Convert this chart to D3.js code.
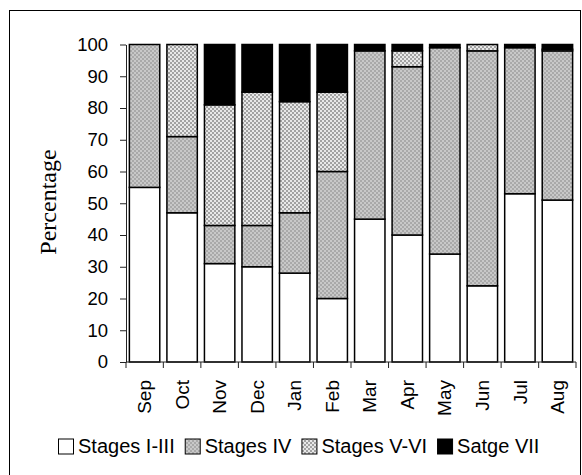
<!DOCTYPE html>
<html>
<head>
<meta charset="utf-8">
<script src="https://cdn.jsdelivr.net/npm/d3@7"></script>
<style>
  body { margin: 0; background: #fff; }
  svg { display: block; }
</style>
</head>
<body>
<script>
const months = ['Sep', 'Oct', 'Nov', 'Dec', 'Jan', 'Feb', 'Mar', 'Apr', 'May', 'Jun', 'Jul', 'Aug']
const stagesI_III = [55, 47, 31, 30, 28, 20, 45, 40, 34, 24, 53, 51]
const stagesIV = [45, 24, 12, 13, 19, 40, 53, 53, 65, 74, 46, 47]
const stagesV_VI = [0, 29, 38, 42, 35, 25, 0, 5, 0, 2, 0, 0.5]
const stageVII = [0, 0, 19, 15, 18, 15, 2, 2, 1, 0, 1, 1.5]
const seriesNames = ['Stages I-III', 'Stages IV', 'Stages V-VI', 'Satge VII']
const yTicks = [0, 10, 20, 30, 40, 50, 60, 70, 80, 90, 100]

const width = 582
const height = 475

const rows = months.map((m, i) => ({
  month: m,
  s0: stagesI_III[i], s1: stagesIV[i], s2: stagesV_VI[i], s3: stageVII[i]
}))
const keys = ['s0', 's1', 's2', 's3']

const svg = d3.select('body').append('svg')
  .attr('width', width)
  .attr('height', height)

// checkered fills for the grey stages
const defs = svg.append('defs')
function checker(id, a, b) {
  const p = defs.append('pattern')
    .attr('id', id)
    .attr('width', 4).attr('height', 4)
    .attr('patternUnits', 'userSpaceOnUse')
  p.append('rect').attr('width', 4).attr('height', 4).attr('fill', a)
  p.append('rect').attr('width', 2).attr('height', 2).attr('fill', b)
  p.append('rect').attr('x', 2).attr('y', 2).attr('width', 2).attr('height', 2).attr('fill', b)
}
checker('pIV', '#c8c8c8', '#a9a9a9')
checker('pVVI', '#e8e8e8', '#a2a2a2')
const fills = ['#ffffff', 'url(#pIV)', 'url(#pVVI)', '#000000']

// outer frame
svg.append('rect')
  .attr('x', 9.5).attr('y', 10.5)
  .attr('width', 571).attr('height', 475)
  .attr('fill', 'none')
  .attr('stroke', '#000')
  .attr('stroke-width', 1)

const x = d3.scaleBand()
  .domain(months)
  .range([126, 576])
  .paddingInner(0.19)
  .paddingOuter(0.09)

const y = d3.scaleLinear()
  .domain([0, 100])
  .range([362, 44.5])

const stacked = d3.stack().keys(keys)(rows)

// bars
svg.append('g')
  .selectAll('g')
  .data(stacked)
  .join('g')
  .attr('fill', (d, i) => fills[i])
  .selectAll('rect')
  .data(d => d.filter(s => s[1] - s[0] > 0))
  .join('rect')
  .attr('x', d => x(d.data.month))
  .attr('y', d => y(d[1]))
  .attr('width', x.bandwidth())
  .attr('height', d => y(d[0]) - y(d[1]))
  .attr('stroke', '#000')
  .attr('stroke-width', 1.5)

// y axis
const yAxis = svg.append('g')
  .attr('transform', 'translate(126,0)')
  .call(d3.axisLeft(y).tickValues(yTicks).tickSize(6).tickSizeOuter(0))
yAxis.selectAll('path, line').attr('stroke', '#222')
yAxis.selectAll('text')
  .attr('x', -18)
  .style('font-family', '"Liberation Sans", Arial, sans-serif')
  .style('font-size', '18.5px')
  .attr('fill', '#000')

// x axis line and ticks at band edges
const xAxis = svg.append('g')
xAxis.append('line')
  .attr('x1', 126).attr('x2', 576)
  .attr('y1', y(0)).attr('y2', y(0))
  .attr('stroke', '#222')
const edges = months.map(m => x(m) - x.step() * x.paddingInner() / 2)
edges.push(576)
edges[0] = 126
xAxis.selectAll('.tk')
  .data(edges)
  .join('line')
  .attr('class', 'tk')
  .attr('x1', d => d).attr('x2', d => d)
  .attr('y1', y(0)).attr('y2', y(0) + 6)
  .attr('stroke', '#222')
xAxis.selectAll('.lbl')
  .data(months)
  .join('text')
  .attr('class', 'lbl')
  .attr('transform', d => `translate(${x(d) + x.bandwidth() / 2},${y(0) + 18}) rotate(-90)`)
  .attr('text-anchor', 'end')
  .attr('dy', '0.35em')
  .style('font-family', '"Liberation Sans", Arial, sans-serif')
  .style('font-size', '19px')
  .text(d => d)

// y label
svg.append('text')
  .attr('transform', 'translate(48,202) rotate(-90)')
  .attr('text-anchor', 'middle')
  .attr('dy', '0.35em')
  .style('font-family', '"Liberation Serif", "Times New Roman", serif')
  .style('font-size', '24px')
  .text('Percentage')

// legend
const legend = svg.append('g').attr('transform', 'translate(58,446)')
let lx = 0
seriesNames.forEach((name, i) => {
  legend.append('rect')
    .attr('x', lx + 0.5).attr('y', -7)
    .attr('width', 15).attr('height', 15)
    .attr('fill', fills[i])
    .attr('stroke', '#000')
    .attr('stroke-width', 1)
  const t = legend.append('text')
    .attr('x', lx + 20).attr('y', 0)
    .attr('dy', '0.35em')
    .style('font-family', '"Liberation Sans", Arial, sans-serif')
    .style('font-size', '20px')
    .text(name)
  lx += 20 + t.node().getComputedTextLength() + 10
})
</script>
</body>
</html>
